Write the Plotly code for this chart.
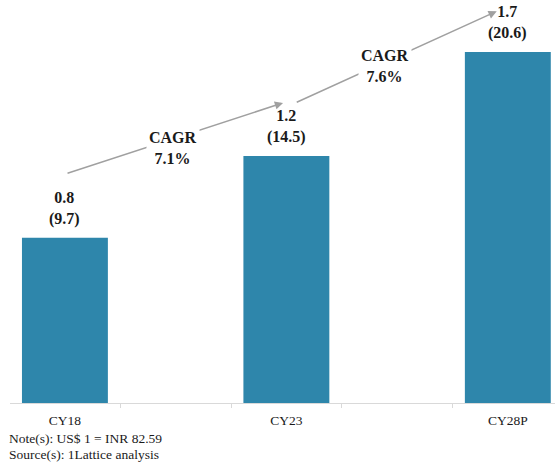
import plotly.graph_objects as go

# Data
categories = ["CY18", "CY23", "CY28P"]
usd_bn = [0.8, 1.2, 1.7]
inr_k_cr = [9.7, 14.5, 20.6]
cagr_labels = ["7.1%", "7.6%"]
note_lines = ["Note(s): US$ 1 = INR 82.59", "Source(s): 1Lattice analysis"]

BAR_COLOR = "#2e86ab"
FONT = "Liberation Serif"

x_pos = list(range(len(categories)))

fig = go.Figure()
fig.add_trace(go.Bar(
    x=x_pos, y=inr_k_cr, width=0.388,
    marker=dict(color=BAR_COLOR, line=dict(width=0)),
    hoverinfo="skip", showlegend=False,
))
# invisible trace on overlay axis for minor ticks
fig.add_trace(go.Scatter(x=[0, 2], y=[0, 0], xaxis="x2", mode="markers",
                         marker=dict(opacity=0), showlegend=False, hoverinfo="skip"))

xr = [-0.248, 2.213]
fig.update_layout(
    width=555, height=463,
    margin=dict(l=10, r=0, t=0, b=60),
    paper_bgcolor="white", plot_bgcolor="white",
    font=dict(family=FONT, size=13, color="#1a1a1a"),
    xaxis=dict(range=xr, tickvals=x_pos, ticktext=categories, ticks="", showgrid=False,
               zeroline=False, showline=True, linecolor="#d9d9d9", linewidth=1,
               ticklabelstandoff=5,
               tickfont=dict(family=FONT, size=13.5, color="#1a1a1a")),
    xaxis2=dict(range=xr, overlaying="x", tickvals=[0.25, 0.75, 1.25, 1.75],
                showticklabels=False, ticks="outside", ticklen=4, tickcolor="#d9d9d9",
                showgrid=False, zeroline=False, showline=False, side="bottom"),
    yaxis=dict(range=[0, 23.66], visible=False),
)

# value labels above bars
for xi, u, v in zip(x_pos, usd_bn, inr_k_cr):
    fig.add_annotation(x=xi, y=v, xref="x", yref="y", yanchor="bottom", yshift=8,
                       text=f"<b>{u}<br>({v})</b>", showarrow=False,
                       font=dict(family=FONT, size=16, color="#1a1a1a"))

# CAGR arrows (data coordinates)
arrows = [((0.005, 13.46), (0.985, 17.62)), ((1.04, 17.62), (1.95, 23.0))]
for (x0, y0), (x1, y1) in arrows:
    fig.add_annotation(x=x1, y=y1, ax=x0, ay=y0, xref="x", yref="y", axref="x", ayref="y",
                       text="", showarrow=True, arrowhead=2, arrowsize=1.1, arrowwidth=1.5,
                       arrowcolor="#a0a0a0")
cagr_pos = [(0.49, 14.97), (1.445, 19.79)]
for (cx, cy), lab in zip(cagr_pos, cagr_labels):
    fig.add_annotation(x=cx, y=cy, xref="x", yref="y", text=f"<b>CAGR<br>{lab}</b>",
                       showarrow=False, bgcolor="white", borderpad=2,
                       font=dict(family=FONT, size=16, color="#1a1a1a"))

for i, line in enumerate(note_lines):
    fig.add_annotation(x=0, y=0, xref="paper", yref="paper", xanchor="left", yanchor="middle",
                       xshift=-2, yshift=-35 - 16 * i, text=line, showarrow=False,
                       borderpad=0,
                       font=dict(family=FONT, size=13.5, color="#1a1a1a"))

fig.write_html("out.html")
